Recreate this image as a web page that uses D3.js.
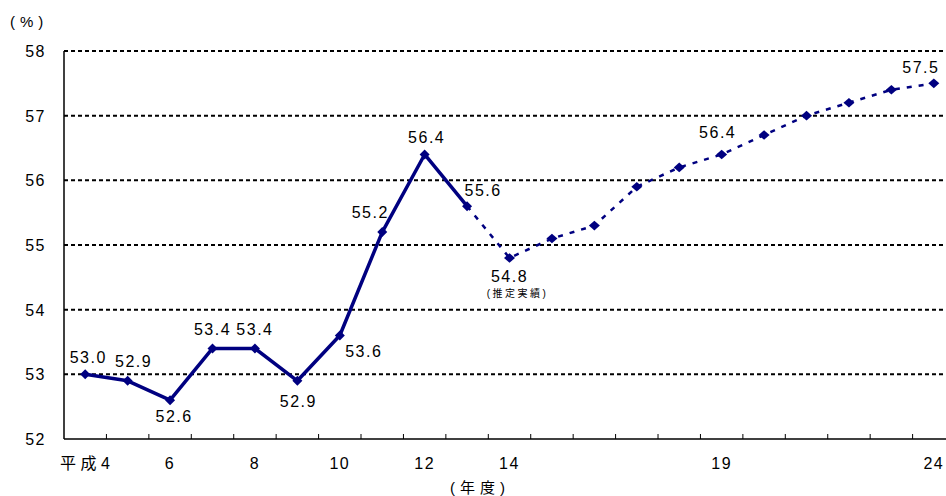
<!DOCTYPE html>
<html>
<head>
<meta charset="utf-8">
<script src="https://cdn.jsdelivr.net/npm/d3@7"></script>
<style>
  html, body { margin: 0; padding: 0; background: #fff; }
  svg { display: block; font-family: "Liberation Sans", Arial, "Noto Sans CJK JP", sans-serif; }
</style>
</head>
<body>
<svg id="chart" width="946" height="496"></svg>
<script>
// Fiscal years (Heisei 4 .. 24)
const years = d3.range(4, 25);
// Ratio (%) per fiscal year; from year 13 onward the figures are estimates / projections
const values = [53.0, 52.9, 52.6, 53.4, 53.4, 52.9, 53.6, 55.2, 56.4, 55.6,
                54.8, 55.1, 55.3, 55.9, 56.2, 56.4, 56.7, 57.0, 57.2, 57.4, 57.5];
// Last year of actual results (solid line ends here, dashed line starts)
const lastActualYear = 13;
// Years whose tick carries a label, and the label text
const xTickLabels = {4: "平成4", 6: "6", 8: "8", 10: "10", 12: "12", 14: "14", 19: "19", 24: "24"};
const yTicks = [52, 53, 54, 55, 56, 57, 58];
// Years whose value is printed next to the marker
const labeledYears = [4, 5, 6, 7, 8, 9, 10, 11, 12, 13, 14, 19, 24];
const noteYear = 14;
const noteText = "(推定実績)";

// Label placement relative to the marker (pixels)
const labelOffset = {
  4: [3, -11], 5: [6, -14], 6: [4, 22], 7: [0, -13], 8: [0, -13], 9: [1, 26],
  10: [24, 21], 11: [-12, -14], 12: [2, -11], 13: [16, -10], 14: [0, 24],
  19: [-4, -16], 24: [-13, -10]
};

const navy = "#000080";
const svg = d3.select("#chart");
const plotLeft = 64, plotTop = 51, plotBottom = 439, step = 42.43;

const x = d3.scaleBand().domain(years).range([plotLeft, plotLeft + step * years.length]);
const y = d3.scaleLinear().domain([52, 58]).range([plotBottom, plotTop]);
const cx = d => x(d) + x.bandwidth() / 2;

// Dotted horizontal gridlines
svg.append("g").selectAll("line")
  .data(yTicks.filter(t => t > 52))
  .join("line")
  .attr("x1", plotLeft).attr("x2", 946)
  .attr("y1", d => y(d)).attr("y2", d => y(d))
  .attr("stroke", "#000").attr("stroke-width", 2)
  .attr("stroke-dasharray", "4,3");

// Axes lines
svg.append("line").attr("x1", plotLeft).attr("x2", plotLeft).attr("y1", plotTop).attr("y2", plotBottom)
  .attr("stroke", "#000").attr("stroke-width", 1.5);
svg.append("line").attr("x1", plotLeft).attr("x2", 946).attr("y1", plotBottom).attr("y2", plotBottom)
  .attr("stroke", "#000").attr("stroke-width", 1.5);

// X ticks at band boundaries, pointing up
svg.append("g").selectAll("line")
  .data(years.slice(1))
  .join("line")
  .attr("x1", d => x(d)).attr("x2", d => x(d))
  .attr("y1", plotBottom).attr("y2", plotBottom - 5)
  .attr("stroke", "#000").attr("stroke-width", 1);

// Y tick labels
svg.append("g").selectAll("text")
  .data(yTicks)
  .join("text")
  .attr("x", 46).attr("y", d => y(d) + 6)
  .attr("text-anchor", "end")
  .attr("font-size", 16).attr("letter-spacing", 1.5)
  .attr("fill", "#000")
  .text(d => d);

svg.append("text").attr("x", 10).attr("y", 27)
  .attr("font-size", 15).attr("letter-spacing", 5).text("(%)");

// X tick labels
svg.append("g").selectAll("text")
  .data(Object.keys(xTickLabels).map(Number))
  .join("text")
  .attr("x", d => cx(d) + (d === 4 ? 2 : 0)).attr("y", 469)
  .attr("text-anchor", "middle")
  .attr("font-size", 16).attr("letter-spacing", d => d === 4 ? 4.5 : 1.5)
  .text(d => xTickLabels[d]);

svg.append("text").attr("x", 480).attr("y", 493)
  .attr("text-anchor", "middle")
  .attr("font-size", 15).attr("letter-spacing", 5).text("(年度)");

// Lines
const pts = years.map((yr, i) => ({yr, v: values[i]}));
const line = d3.line().x(d => cx(d.yr)).y(d => y(d.v));

svg.append("path")
  .datum(pts.filter(d => d.yr >= lastActualYear))
  .attr("d", line).attr("fill", "none")
  .attr("stroke", navy).attr("stroke-width", 2.5)
  .attr("stroke-dasharray", "5,7");

svg.append("path")
  .datum(pts.filter(d => d.yr <= lastActualYear))
  .attr("d", line).attr("fill", "none")
  .attr("stroke", navy).attr("stroke-width", 3.5)
  .attr("stroke-linejoin", "round");

// Diamond markers
const diamond = (w, h) => `M0,${-h}L${w},0L0,${h}L${-w},0Z`;
svg.append("g").selectAll("path")
  .data(pts)
  .join("path")
  .attr("transform", d => `translate(${cx(d.yr)},${y(d.v)})`)
  .attr("d", d => d.yr <= lastActualYear ? diamond(5, 5) : diamond(5.5, 4.8))
  .attr("fill", navy);

// Value labels
svg.append("g").selectAll("text")
  .data(pts.filter(d => labeledYears.includes(d.yr)))
  .join("text")
  .attr("x", d => cx(d.yr) + labelOffset[d.yr][0])
  .attr("y", d => y(d.v) + labelOffset[d.yr][1])
  .attr("text-anchor", "middle")
  .attr("font-size", 16).attr("letter-spacing", 1.5)
  .attr("fill", "#000")
  .text(d => d.v.toFixed(1));

svg.append("text")
  .attr("x", cx(noteYear) + 8).attr("y", y(values[years.indexOf(noteYear)]) + 39)
  .attr("text-anchor", "middle")
  .attr("font-size", 10).attr("letter-spacing", 2.5)
  .text(noteText);
</script>
</body>
</html>
